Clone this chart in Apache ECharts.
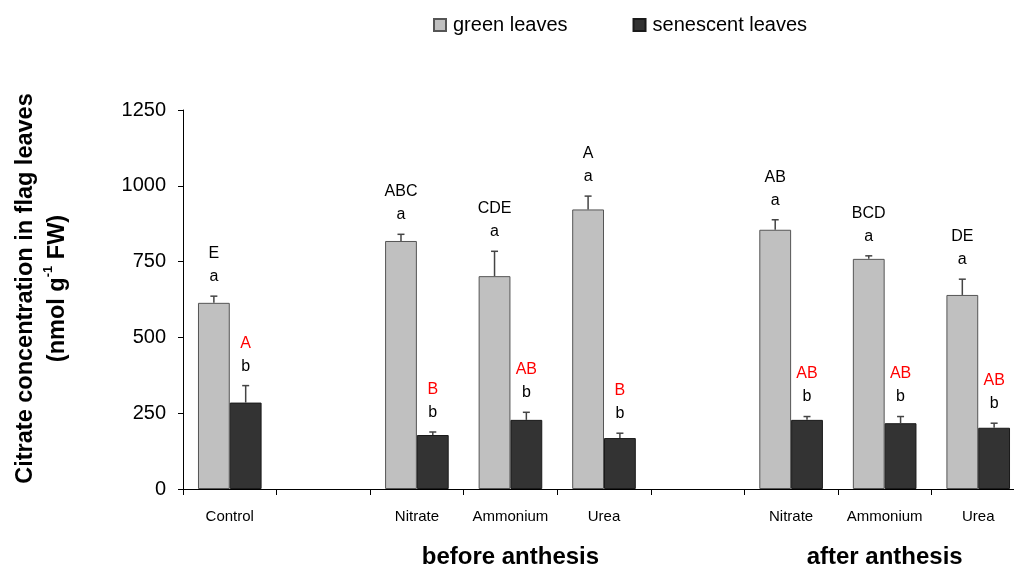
<!DOCTYPE html>
<html>
<head>
<meta charset="utf-8">
<script src="https://cdn.jsdelivr.net/npm/echarts@6/dist/echarts.min.js"></script>
<style>html,body{margin:0;padding:0;background:#fff;overflow:hidden;width:1014px;height:569px}#c{width:1025px;height:569px}</style>
</head>
<body>
<div id="c"></div>
<script>
const categories = ['Control', '', 'Nitrate', 'Ammonium', 'Urea', '', 'Nitrate', 'Ammonium', 'Urea'];
const groupLabels = ['', '', '', 'before anthesis', '', '', '', 'after anthesis', ''];
const greenValues = [614, null, 818, 702, 922, null, 855, 759, 640];
const greenErrors = [22, null, 22, 82, 44, null, 33, 10, 52];
const senescentValues = [285, null, 178, 228, 168, null, 228, 217, 202];
const senescentErrors = [56, null, 10, 25, 16, null, 11, 22, 15];
const greenUpper = ['E', '', 'ABC', 'CDE', 'A', '', 'AB', 'BCD', 'DE'];
const greenLower = ['a', '', 'a', 'a', 'a', '', 'a', 'a', 'a'];
const senescentUpper = ['A', '', 'B', 'AB', 'B', '', 'AB', 'AB', 'AB'];
const senescentLower = ['b', '', 'b', 'b', 'b', '', 'b', 'b', 'b'];
const yTicks = [0, 250, 500, 750, 1000, 1250];

const FONT = "'Liberation Sans', Arial, sans-serif";
const BAR_FRAC = 0.34;

function errData(vals, errs) {
  const out = [];
  vals.forEach((v, i) => { if (v != null) out.push([i, v, errs[i]]); });
  return out;
}

function makeRender(side, upper, lower, upperColor) {
  return function (params, api) {
    const i = api.value(0), v = api.value(1), e = api.value(2);
    const top = api.coord([i, v + e]);
    const base = api.coord([i, v]);
    const catW = api.size([1, 0])[0];
    const bw = catW * BAR_FRAC;
    const x = top[0] + side * bw / 2;
    return {
      type: 'group',
      children: [
        { type: 'line', shape: { x1: x, y1: base[1], x2: x, y2: top[1] }, style: { stroke: '#444', lineWidth: 1.5 } },
        { type: 'line', shape: { x1: x - 3.5, y1: top[1], x2: x + 3.5, y2: top[1] }, style: { stroke: '#444', lineWidth: 1.5 } },
        { type: 'text', x: x, y: top[1] - 8,
          style: {
            text: '{u|' + upper[i] + '}\n{l|' + lower[i] + '}',
            align: 'center', verticalAlign: 'bottom',
            rich: {
              u: { fontSize: 16, fontFamily: FONT, fill: upperColor, lineHeight: 23, align: 'center' },
              l: { fontSize: 16, fontFamily: FONT, fill: '#000', lineHeight: 23, align: 'center' }
            }
          } }
      ]
    };
  };
}

const chart = echarts.init(document.getElementById('c'), null, { renderer: 'canvas' });
chart.setOption({
  animation: false,
  backgroundColor: '#fff',
  textStyle: { fontFamily: FONT },
  legend: {
    top: 10, left: 428, itemWidth: 12, itemHeight: 12, itemGap: 65,
    icon: 'rect',
    textStyle: { fontSize: 20, color: '#000', fontFamily: FONT, padding: [0, 0, 0, 2] },
    data: ['green leaves', 'senescent leaves']
  },
  grid: { left: 183, right: 0, top: 110, bottom: 77, containLabel: false },
  xAxis: [{
    type: 'category', data: categories,
    axisLine: { lineStyle: { color: '#000', width: 1 } },
    axisTick: { show: true, length: 6, lineStyle: { color: '#000' } },
    axisLabel: { interval: 0, fontSize: 15, color: '#000', margin: 20, fontFamily: FONT }
  }, {
    type: 'category', data: groupLabels, position: 'bottom',
    axisLine: { show: false }, axisTick: { show: false },
    axisLabel: { interval: 0, fontSize: 24, fontWeight: 'bold', color: '#000', margin: 56, fontFamily: FONT }
  }],
  yAxis: {
    type: 'value', min: yTicks[0], max: yTicks[yTicks.length - 1], interval: 250,
    axisLine: { show: true, lineStyle: { color: '#000', width: 1 } },
    axisTick: { show: true, length: 5, lineStyle: { color: '#000' } },
    axisLabel: { fontSize: 20, color: '#000', margin: 17, fontFamily: FONT, formatter: (v) => String(v) },
    splitLine: { show: false },
    name: '{t|Citrate concentration in flag leaves}\n{t|(nmol g}{s|-1}{t| FW)}',
    nameLocation: 'middle', nameRotate: 90, nameGap: 109,
    nameTextStyle: {
      padding: [0, 0, 0, 22],
      rich: {
        t: { fontSize: 23.5, fontWeight: 'bold', color: '#000', fontFamily: FONT, lineHeight: 32 },
        s: { fontSize: 13, fontWeight: 'bold', color: '#000', fontFamily: FONT, lineHeight: 18, verticalAlign: 'top' }
      }
    }
  },
  series: [
    {
      name: 'green leaves', type: 'bar', data: greenValues, barWidth: (BAR_FRAC * 100) + '%', barGap: '0%',
      itemStyle: { color: '#c0c0c0', borderColor: '#555', borderWidth: 1 }
    },
    {
      name: 'senescent leaves', type: 'bar', data: senescentValues, barWidth: (BAR_FRAC * 100) + '%', barGap: '0%',
      itemStyle: { color: '#333333', borderColor: '#1a1a1a', borderWidth: 1 }
    },
    {
      type: 'custom', name: 'green err', data: errData(greenValues, greenErrors),
      renderItem: makeRender(-1, greenUpper, greenLower, '#000'), z: 5, silent: true
    },
    {
      type: 'custom', name: 'sen err', data: errData(senescentValues, senescentErrors),
      renderItem: makeRender(1, senescentUpper, senescentLower, '#ff0000'), z: 5, silent: true
    }
  ]
});
</script>
</body>
</html>
